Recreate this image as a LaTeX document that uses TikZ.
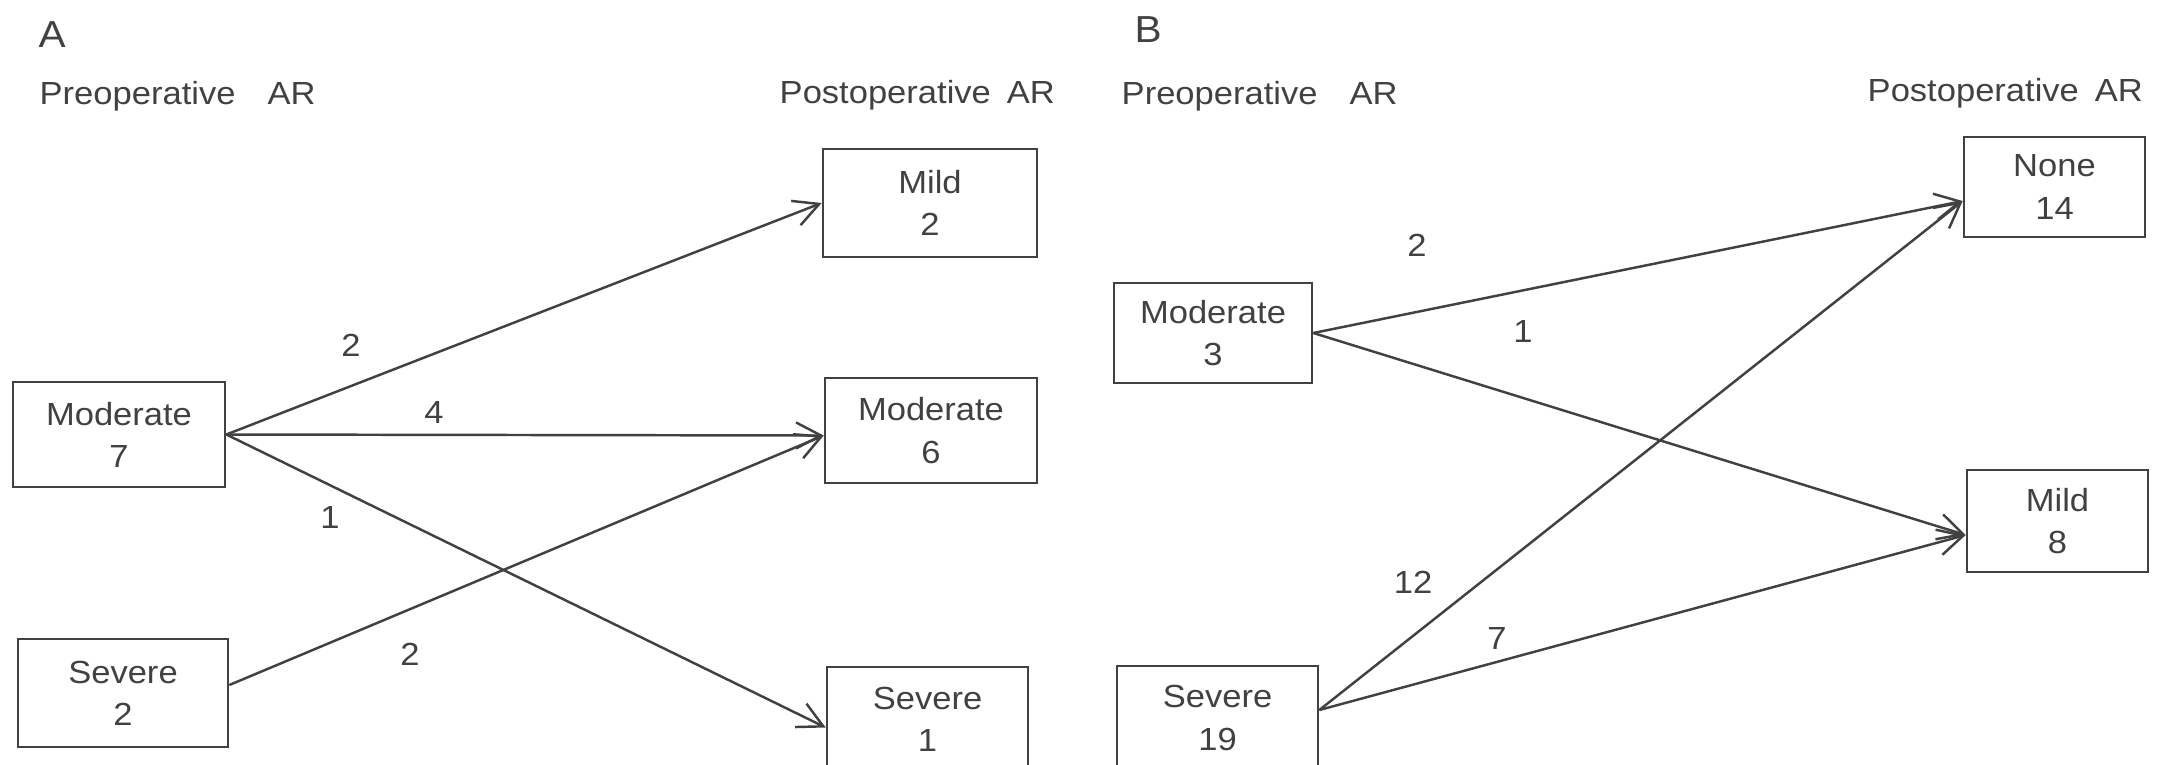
\documentclass[tikz,border=0pt]{standalone}
\usepackage{fontspec}
\setmainfont[FakeStretch=1.08]{Liberation Sans}
\usepackage{tikz}
\usetikzlibrary{arrows.meta}
\definecolor{inkgray}{RGB}{65,65,65}

\begin{document}
\begin{tikzpicture}[x=0.1mm, y=-0.1mm,
    box/.style={draw=inkgray, line width=0.75pt, text=inkgray, align=center, inner sep=0pt, font=\fontsize{9.1pt}{12pt}\selectfont},
    head/.style={anchor=base west, inner sep=0pt, text=inkgray, font=\fontsize{9.1pt}{11pt}\selectfont},
    panel/.style={anchor=base west, inner sep=0pt, text=inkgray, font=\fontsize{10.7pt}{12pt}\selectfont},
    count/.style={inner sep=0pt, text=inkgray, font=\fontsize{9.1pt}{11pt}\selectfont},
    arr/.style={draw=inkgray, line width=0.7pt, -{Straight Barb[length=2.5mm,width=2.6mm]}}]
    \useasboundingbox (0,0) rectangle (2175,764);
    \clip (0,0) rectangle (2175,764);

    % Panel A
    \node[panel] (labA) at (38,47) {A};
    \node[head] (preA) at (39,104) {Preoperative\hspace{3.2mm}AR};
    \node[head] (postA) at (779,103) {Postoperative\hspace{1.6mm}AR};

    \node[box, minimum width=21.2mm, minimum height=10.5mm] (modA) at (119,434.5) {Moderate\\7};
    \node[box, minimum width=21mm, minimum height=10.8mm] (sevA) at (123,693) {Severe\\2};
    \node[box, minimum width=21.4mm, minimum height=10.8mm] (mildoutA) at (930,203) {Mild\\2};
    \node[box, minimum width=21.2mm, minimum height=10.5mm] (modoutA) at (931,430.5) {Moderate\\6};
    \node[box, minimum width=20.1mm, minimum height=10.5mm] (sevoutA) at (927.5,719.5) {Severe\\1};

    \draw[arr] (modA.east) -- (mildoutA.west);
    \draw[arr] (modA.east) -- ([yshift=-0.5mm]modoutA.west);
    \draw[arr] (modA.east) -- ([yshift=-0.8mm]sevoutA.west);
    \draw[arr] ([yshift=0.8mm]sevA.east) -- ([yshift=-0.5mm]modoutA.west);

    \node[count] (nA1) at (351,345) {2};
    \node[count] (nA2) at (434,412) {4};
    \node[count] (nA3) at (330,517) {1};
    \node[count] (nA4) at (410,654) {2};

    % Panel B
    \node[panel] (labB) at (1134,42) {B};
    \node[head] (preB) at (1121,104) {Preoperative\hspace{3.2mm}AR};
    \node[head] (postB) at (1867,101) {Postoperative\hspace{1.6mm}AR};

    \node[box, minimum width=19.8mm, minimum height=10mm] (modB) at (1213,333) {Moderate\\3};
    \node[box, minimum width=20.1mm, minimum height=10.4mm] (sevB) at (1217.5,718) {Severe\\19};
    \node[box, minimum width=18.1mm, minimum height=10mm] (noneB) at (2054.5,187) {None\\14};
    \node[box, minimum width=18.1mm, minimum height=10.2mm] (mildoutB) at (2057.5,521) {Mild\\8};

    \draw[arr] (modB.east) -- ([yshift=-1.4mm]noneB.west);
    \draw[arr] (modB.east) -- ([yshift=-1.4mm]mildoutB.west);
    \draw[arr] ([yshift=0.8mm]sevB.east) -- ([yshift=-1.4mm]noneB.west);
    \draw[arr] ([yshift=0.8mm]sevB.east) -- ([yshift=-1.4mm]mildoutB.west);

    \node[count] (nB1) at (1417,245) {2};
    \node[count] (nB2) at (1523,331) {1};
    \node[count] (nB3) at (1413,582) {12};
    \node[count] (nB4) at (1497,638) {7};

\end{tikzpicture}
\end{document}
